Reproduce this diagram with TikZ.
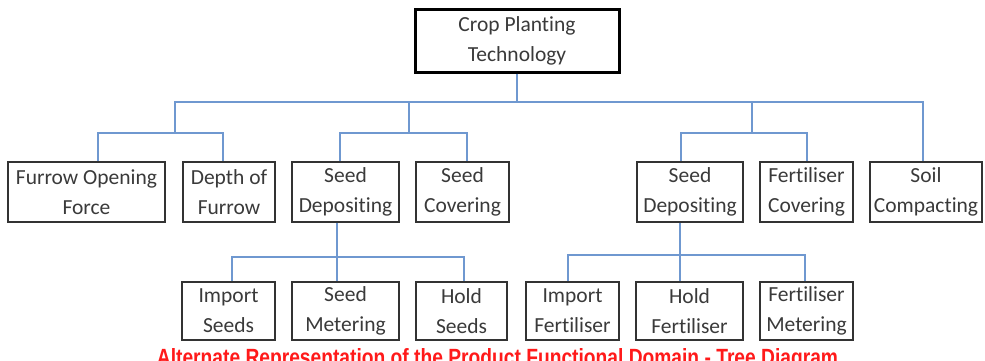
\documentclass[tikz,border=0pt]{standalone}
\usepackage{fontspec}
\setmainfont{Carlito}[Ligatures=NoCommon]
\newfontfamily\capfont{Liberation Sans}
\usetikzlibrary{calc}
\definecolor{lnblue}{HTML}{6F98D0}
\definecolor{bxgray}{HTML}{333333}
\definecolor{txgray}{HTML}{3A3A3A}
\definecolor{capred}{HTML}{FF1A1A}
\tikzset{
  bx/.style={draw=bxgray, line width=1.6pt, inner sep=0pt, align=center,
    text=txgray, font=\fontsize{21.5}{30}\selectfont},
  rowa/.style={bx, minimum height=60pt},
  rowb/.style={bx, minimum height=58pt},
  ln/.style={draw=lnblue, line width=2pt},
}
\begin{document}
\begin{tikzpicture}[x=1pt,y=-1pt]
\useasboundingbox (0,0) rectangle (985,360);
\fill[white] (0,0) rectangle (985,360);
% top
\node[bx, draw=black, line width=3pt, minimum width=204pt, minimum height=63pt] (top) at (517,40.5) {Crop Planting\\Technology};
% row 1
\node[rowa, minimum width=157pt] (fof) at (86.5,192) {Furrow Opening\\Force};
\node[rowa, minimum width=92pt] (dof) at (229,192) {Depth of\\Furrow};
\node[rowa, minimum width=107pt] (sd1) at (345.5,192) {Seed\\Depositing};
\node[rowa, minimum width=93pt] (sc) at (462.5,192) {Seed\\Covering};
\node[rowa, minimum width=106pt] (sd2) at (690,192) {Seed\\Depositing};
\node[rowa, minimum width=93pt] (fc) at (806.5,192) {Fertiliser\\Covering};
\node[rowa, minimum width=112pt] (soil) at (926,192) {Soil\\Compacting};
% row 2
\node[rowb, minimum width=93pt] (is) at (228.5,311) {Import\\Seeds};
\node[rowb, minimum width=107pt] (sm) at (345.5,311) {Seed\\Metering};
\node[rowb, minimum width=91pt] (hs) at (461.5,311) {Hold\\Seeds};
\node[rowb, minimum width=93pt] (if) at (572.5,311) {Import\\Fertiliser};
\node[rowb, minimum width=107pt] (hf) at (689.5,311) {Hold\\Fertiliser};
\node[rowb, minimum width=93pt] (fm) at (806.5,311) {Fertiliser\\Metering};
% junctions
\coordinate (b0) at (517,102);
\coordinate (gL) at (175,133);
\coordinate (gM) at (409,133);
\coordinate (gR) at (752,133);
\coordinate (hL) at (337,257);
\coordinate (hR) at (680,255);
% connectors
\draw[ln] (top.south) -- (b0);
\draw[ln] (gL) |- (b0) -| ([xshift=-3pt]soil.north);
\draw[ln] (gM) -- (gM |- b0);
\draw[ln] (gR) -- (gR |- b0);
\draw[ln] ([xshift=11.5pt]fof.north) |- (gL) -| ([xshift=-6pt]dof.north);
\draw[ln] ([xshift=-5.5pt]sd1.north) |- (gM) -| ([xshift=4.5pt]sc.north);
\draw[ln] ([xshift=-9pt]sd2.north) |- (gR) -| ([xshift=0.5pt]fc.north);
\draw[ln] ([xshift=-8.5pt]sd1.south) -- ([xshift=-8.5pt]sm.north);
\draw[ln] ([xshift=3.5pt]is.north) |- (hL) -| ([xshift=2.5pt]hs.north);
\draw[ln] ([xshift=-10pt]sd2.south) -- ([xshift=-9.5pt]hf.north);
\draw[ln] ([xshift=-4.5pt]if.north) |- (hR) -| ([xshift=-1.5pt]fm.north);
% caption
\node[anchor=base, inner sep=0pt, text=capred] (cap) at (497.5,365)
  {\resizebox{681pt}{17pt}{\capfont\bfseries Alternate Representation of the Product Functional Domain - Tree Diagram}};
\end{tikzpicture}
\end{document}
